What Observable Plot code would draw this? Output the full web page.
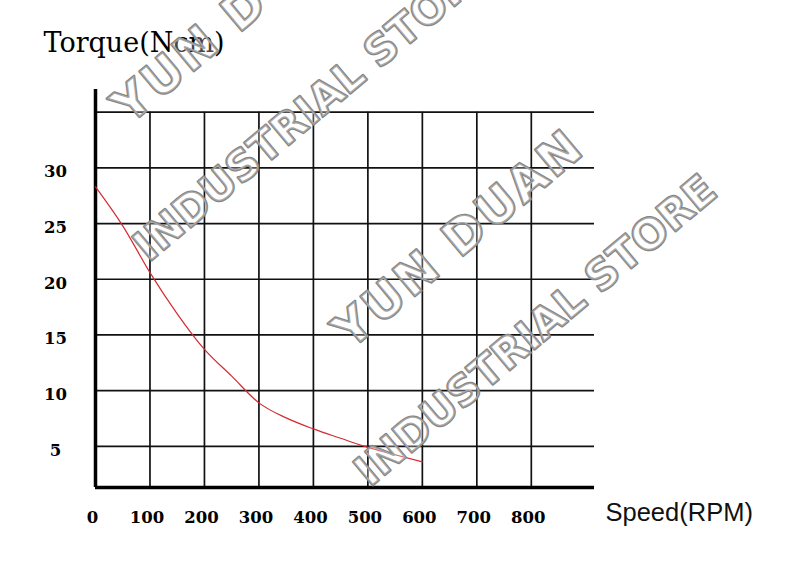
<!DOCTYPE html>
<html>
<head>
<meta charset="utf-8">
<script src="https://cdn.jsdelivr.net/npm/d3@7"></script>
<script src="https://cdn.jsdelivr.net/npm/@observablehq/plot@0.6"></script>
<style>
  html, body { margin: 0; padding: 0; background: #fff; }
  #chart { width: 800px; height: 570px; }
</style>
</head>
<body>
<div id="chart"></div>
<script>
// Torque curve
const speeds = [0, 50, 100, 150, 200, 250, 300, 350, 400, 450, 500, 550, 600];
const torque = [28.3, 24.8, 20.6, 16.9, 13.7, 11.3, 8.9, 7.55, 6.56, 5.72, 4.9, 4.24, 3.6];

// Tick labels and grid
const xTicks = [0, 100, 200, 300, 400, 500, 600, 700, 800];
const xGrid = [100, 200, 300, 400, 500, 600, 700, 800];
const yTicks = [5, 10, 15, 20, 25, 30];
const yGrid = [5, 10, 15, 20, 25, 30, 35];

const yTitle = "Torque(Ncm)";
const xTitle = "Speed(RPM)";
const watermarkLines = ["YUN DUAN", "INDUSTRIAL STORE"];
const watermark = watermarkLines.join("\n");

const xDomain = [0, 916];
const yDomain = [1.3, 37.04];

const curve = speeds.map((s, i) => ({speed: s, torque: torque[i]}));

const serif = "'DejaVu Serif', 'Liberation Serif', serif";
const wmStyle = {
  frameAnchor: "top-left",
  rotate: -40,
  textAnchor: "middle",
  lineAnchor: "middle",
  lineHeight: 2.8,
  fontSize: 42,
  fontWeight: "bold",
  fontFamily: "'DejaVu Sans', sans-serif",
  fill: "white",
  fillOpacity: 0.3,
  stroke: "#868686",
  strokeWidth: 2.4,
  strokeLinejoin: "round"
};

const chart = Plot.plot({
  width: 800,
  height: 570,
  marginLeft: 95,
  marginRight: 206,
  marginTop: 89,
  marginBottom: 83,
  x: {domain: xDomain, axis: null},
  y: {domain: yDomain, axis: null},
  marks: [
    Plot.ruleY(yGrid, {y: d => d, stroke: "#111", strokeWidth: 1.7}),
    Plot.ruleX(xGrid, {x: d => d, y1: yDomain[0], y2: yGrid[yGrid.length - 1], stroke: "#111", strokeWidth: 1.7}),
    Plot.ruleX([xDomain[0]], {stroke: "#000", strokeWidth: 3.5}),
    Plot.ruleY([yDomain[0]], {stroke: "#000", strokeWidth: 3.5}),
    Plot.line(curve, {x: "speed", y: "torque", stroke: "#d42a32", strokeWidth: 1.2, curve: "monotone-x"}),
    Plot.text(yTicks, {y: d => d, text: d => String(d), frameAnchor: "left", dx: -40, dy: 4,
      textAnchor: "middle", lineAnchor: "middle", fontWeight: "bold", fontFamily: serif, fontSize: 16.5, fill: "#000"}),
    Plot.text(xTicks, {x: d => d, text: d => String(d), frameAnchor: "bottom", dx: -3, dy: 30,
      textAnchor: "middle", lineAnchor: "middle", fontWeight: "bold", fontFamily: serif, fontSize: 16.5, fill: "#000"}),
    Plot.text([yTitle], {text: d => d, frameAnchor: "top-left", dx: -52, dy: -46,
      textAnchor: "start", lineAnchor: "middle", fontFamily: serif, fontSize: 27, fill: "#000"}),
    Plot.text([xTitle], {text: d => d, frameAnchor: "bottom-right", dx: 11, dy: 25.5,
      textAnchor: "start", lineAnchor: "middle", fontFamily: "'Liberation Sans', Arial, sans-serif", fontSize: 25.5, fill: "#111"}),
    Plot.text([watermark], {text: d => d, ...wmStyle, dx: 389, dy: 180}),
    Plot.text([watermark], {text: d => d, ...wmStyle, dx: 168, dy: -45})
  ]
});

// the first watermark line is drawn a little larger and wider, as in the picture
d3.select(chart).selectAll("tspan")
  .filter(function () { return this.textContent === watermarkLines[0]; })
  .attr("font-size", 48)
  .attr("letter-spacing", 3);

document.getElementById("chart").appendChild(chart);
</script>
</body>
</html>
